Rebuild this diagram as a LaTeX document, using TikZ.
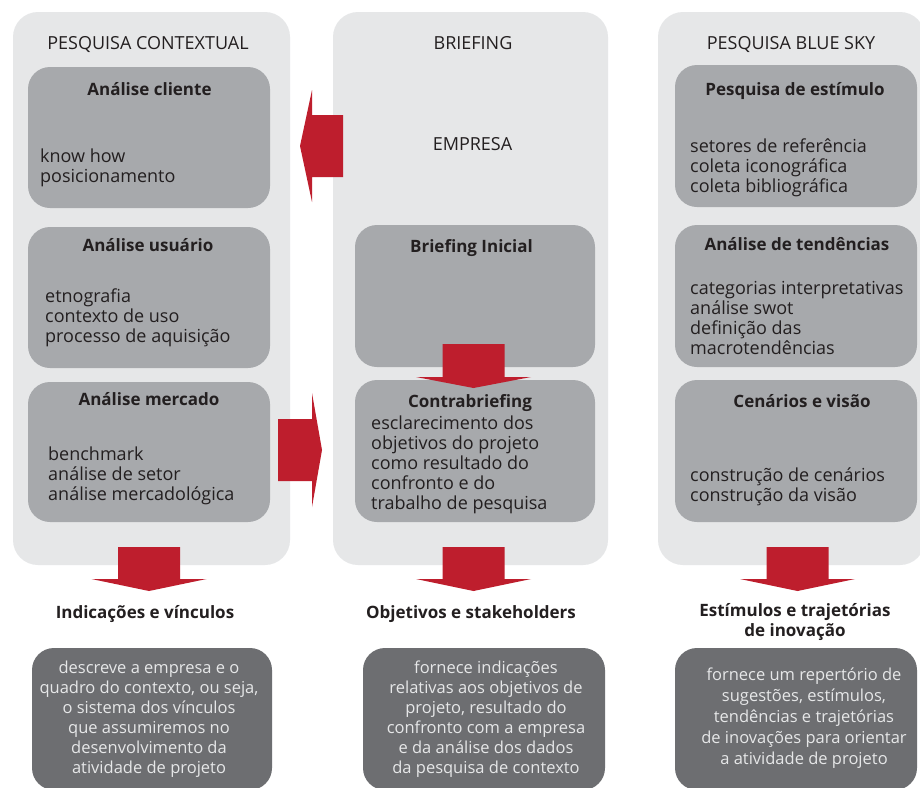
\documentclass[tikz,border=0pt]{standalone}
\usepackage{fontspec}
\setmainfont{Open Sans}
\definecolor{panelgray}{HTML}{E6E7E8}
\definecolor{boxgray}{HTML}{A7A9AC}
\definecolor{outgray}{HTML}{6D6E71}
\definecolor{arrowred}{HTML}{BE1E2D}
\definecolor{inktext}{HTML}{231F20}
\begin{document}
\begin{tikzpicture}[x=1pt, y=-1pt,
  panel/.style={fill=panelgray, rounded corners=25, inner sep=0, minimum height=553},
  box/.style={fill=boxgray, rounded corners=22, inner sep=0, minimum height=141},
  outbox/.style={fill=outgray, rounded corners=22, inner sep=0, minimum height=142},
  colhead/.style={font=\fontsize{18}{20}\selectfont, text=inktext, inner sep=0, anchor=base},
  boxhead/.style={font=\fontsize{17}{20}\selectfont\bfseries, text=inktext, inner sep=0, anchor=base},
  boxbody/.style={font=\fontsize{18}{20}\selectfont, text=inktext, inner sep=0, align=left, anchor=north west, execute at begin node=\strut, execute at end node=\strut},
  outbody/.style={boxbody, font=\fontsize{16.5}{20}\selectfont, text=panelgray, align=center, anchor=north},
  redarrow/.style={fill=arrowred}]
\path[use as bounding box, fill=white] (0,0) rectangle (920,787);

% columns
\node[panel, minimum width=277] (ctx) at (151.5,288.5) {};
\node[panel, minimum width=275] (bri) at (470.5,288.5) {};
\node[panel, minimum width=267] (sky) at (791.5,288.5) {};
\node[colhead] (ctxt) at (148,49) {PESQUISA CONTEXTUAL};
\node[colhead] (brit) at (473,49) {BRIEFING};
\node[colhead] (skyt) at (791,49) {PESQUISA BLUE SKY};

% pesquisa contextual
\node[box, minimum width=242] (cli) at (149,137.5) {};
\node[box, minimum width=242] (usu) at (149,297.5) {};
\node[box, minimum width=242, minimum height=140] (mer) at (149,452) {};
\node[boxhead] (clit) at (149.5,95) {Análise cliente};
\node[boxbody] (clib) at (40,149) {know how\\posicionamento};
\node[boxhead] (usut) at (148,251) {Análise usuário};
\node[boxbody] (usub) at (45,289) {etnografia\\contexto de uso\\processo de aquisição};
\node[boxhead] (mert) at (149,405) {Análise mercado};
\node[boxbody] (merb) at (48,447) {benchmark\\análise de setor\\análise mercadológica};

% briefing
\node[colhead] (emp) at (472.5,150) {EMPRESA};
\node[box, minimum width=240, minimum height=142] (bini) at (475,296) {};
\node[box, minimum width=240, minimum height=142] (cbri) at (475,451) {};
\node[boxhead] (binit) at (471.5,252) {Briefing Inicial};
\node[boxhead] (cbrit) at (470,407) {Contrabriefing};
\node[boxbody] (cbrib) at (371,416) {esclarecimento dos\\objetivos do projeto\\como resultado do\\confronto e do\\trabalho de pesquisa};

% pesquisa blue sky
\node[box, minimum width=242, minimum height=142] (est) at (796,136) {};
\node[box, minimum width=242, minimum height=142] (ten) at (796,296) {};
\node[box, minimum width=242, minimum height=142] (cen) at (796,451) {};
\node[boxhead] (estt) at (795,95) {Pesquisa de estímulo};
\node[boxbody] (estb) at (690,139) {setores de referência\\coleta iconográfica\\coleta bibliográfica};
\node[boxhead] (tent) at (797,250) {Análise de tendências};
\node[boxbody] (tenb) at (690,281) {categorias interpretativas\\análise swot\\definição das\\macrotendências};
\node[boxhead] (cent) at (802,407) {Cenários e visão};
\node[boxbody] (cenb) at (690,468) {construção de cenários\\construção da visão};

% arrows
\coordinate (briout) at (343,146);
\coordinate (ctxout) at (278,450);
\coordinate (ctxdn) at (149,547);
\coordinate (bridn) at (473.5,547);
\coordinate (skydn) at (797.5,547);
\coordinate (biniout) at (473.5,344);
\fill[redarrow] (briout) ++(0,-31) -- ++(-31,0) -- ++(0,-25) -- ++(-12,56) -- ++(12,56) -- ++(0,-25) -- ++(31,0) -- cycle;
\fill[redarrow] (ctxout) ++(0,-31) -- ++(34,0) -- ++(0,-26) -- ++(10,57) -- ++(-10,57) -- ++(0,-26) -- ++(-34,0) -- cycle;
\fill[redarrow] (ctxdn) ++(-31,0) -- ++(62,0) -- ++(0,32) -- ++(26.5,0) -- ++(-57.5,12) -- ++(-57.5,-12) -- ++(26.5,0) -- cycle;
\fill[redarrow] (bridn) ++(-31,0) -- ++(62,0) -- ++(0,32) -- ++(26.5,0) -- ++(-57.5,12) -- ++(-57.5,-12) -- ++(26.5,0) -- cycle;
\fill[redarrow] (skydn) ++(-31,0) -- ++(62,0) -- ++(0,32) -- ++(26.5,0) -- ++(-57.5,12) -- ++(-57.5,-12) -- ++(26.5,0) -- cycle;
\fill[redarrow] (biniout) ++(-31,0) -- ++(62,0) -- ++(0,33) -- ++(26.5,0) -- ++(-57.5,11) -- ++(-57.5,-11) -- ++(26.5,0) -- cycle;

% results
\node[boxhead] (indt) at (145,618) {Indicações e vínculos};
\node[boxhead] (objt) at (471,618) {Objetivos e stakeholders};
\node[boxbody, font=\fontsize{17}{20}\selectfont\bfseries, align=center, anchor=north] (stit) at (795,603) {Estímulos e trajetórias\\de inovação};
\node[outbox, minimum width=240] (ind) at (152,719) {};
\node[outbox, minimum width=242] (obj) at (484,719) {};
\node[outbox, minimum width=242] (sti) at (796,719) {};
\node[outbody] (indb) at (149,661) {descreve a empresa e o\\quadro do contexto, ou seja,\\o sistema dos vínculos\\que assumiremos no\\desenvolvimento da\\atividade de projeto};
\node[outbody] (objb) at (486,661) {fornece indicações\\relativas aos objetivos de\\projeto, resultado do\\confronto com a empresa\\e da análise dos dados\\da pesquisa de contexto};
\node[outbody, font=\fontsize{16.5}{21}\selectfont] (stib) at (804,667.3) {fornece um repertório de\\sugestões, estímulos,\\tendências e trajetórias\\de inovações para orientar\\a atividade de projeto};
\end{tikzpicture}
\end{document}
